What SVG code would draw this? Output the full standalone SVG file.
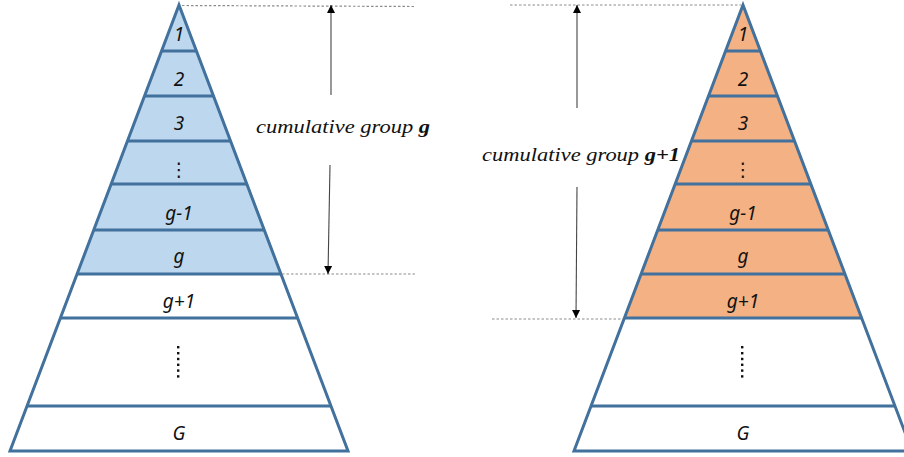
<svg xmlns="http://www.w3.org/2000/svg" width="904" height="457" viewBox="0 0 904 457">
<style>
.edge{fill:none;stroke:#41719C;stroke-width:3;stroke-linejoin:miter}
.band{stroke:#41719C;stroke-width:3}
.lbl{font-family:"Noto Sans","Open Sans",sans-serif;font-style:italic;font-size:19px;fill:#111;text-anchor:middle}
.vel{font-family:"DejaVu Sans",sans-serif;font-size:19px;fill:#111;text-anchor:middle}
.cap{font-family:"Liberation Serif","Times New Roman",serif;font-style:italic;font-size:19px;fill:#111}
.dot{stroke:#8c8c8c;stroke-width:1.2;stroke-dasharray:2.5,2;fill:none}
.arr{stroke:#444;stroke-width:1.1;fill:none}
</style>
<defs>
<marker id="ah" viewBox="0 0 10 10" refX="10" refY="5" markerWidth="8" markerHeight="9" markerUnits="userSpaceOnUse" orient="auto-start-reverse">
<path d="M0,0 L10,5 L0,10 z" fill="#000"/>
</marker>
</defs>
<rect width="904" height="457" fill="#fff"/>

<g id="pyramid-left">
<polygon points="179,5 77.1,274 280.9,274" fill="#BDD7EE"/>
<g class="band">
<line x1="161.6" y1="51" x2="196.4" y2="51"/>
<line x1="144.5" y1="96" x2="213.5" y2="96"/>
<line x1="127.5" y1="141" x2="230.5" y2="141"/>
<line x1="111.2" y1="184" x2="246.8" y2="184"/>
<line x1="93.7" y1="230" x2="264.3" y2="230"/>
<line x1="77.1" y1="274" x2="280.9" y2="274"/>
<line x1="60.4" y1="318" x2="297.6" y2="318"/>
<line x1="27.1" y1="406" x2="330.9" y2="406"/>
</g>
<polygon class="edge" points="179,5 348,451 10,451"/>
<text class="lbl" x="179" y="41">1</text>
<text class="lbl" x="179" y="86">2</text>
<text class="lbl" x="179" y="130">3</text>
<text class="vel" x="179" y="176">⋮</text>
<text class="lbl" x="179" y="220">g-1</text>
<text class="lbl" x="179" y="263">g</text>
<text class="lbl" x="179" y="308">g+1</text>
<g fill="#111">
<rect x="177" y="346" width="2.4" height="2.4"/>
<rect x="177" y="352" width="2.4" height="2.4"/>
<rect x="177" y="357.8" width="2.4" height="2.4"/>
<rect x="177" y="363.6" width="2.4" height="2.4"/>
<rect x="177" y="369.4" width="2.4" height="2.4"/>
<rect x="177" y="375.2" width="2.4" height="2.4"/>
</g>
<text class="lbl" x="179" y="440">G</text>
</g>

<g id="pyramid-right">
<polygon points="743,5 624.4,318 861.6,318" fill="#F4B183"/>
<g class="band">
<line x1="725.6" y1="51" x2="760.4" y2="51"/>
<line x1="708.5" y1="96" x2="777.5" y2="96"/>
<line x1="691.5" y1="141" x2="794.5" y2="141"/>
<line x1="675.2" y1="184" x2="810.8" y2="184"/>
<line x1="657.7" y1="230" x2="828.3" y2="230"/>
<line x1="641.1" y1="274" x2="844.9" y2="274"/>
<line x1="624.4" y1="318" x2="861.6" y2="318"/>
<line x1="591.1" y1="406" x2="894.9" y2="406"/>
</g>
<polygon class="edge" points="743,5 912,451 574,451"/>
<text class="lbl" x="743" y="41">1</text>
<text class="lbl" x="743" y="86">2</text>
<text class="lbl" x="743" y="130">3</text>
<text class="vel" x="743" y="176">⋮</text>
<text class="lbl" x="743" y="220">g-1</text>
<text class="lbl" x="743" y="263">g</text>
<text class="lbl" x="743" y="308">g+1</text>
<g fill="#111">
<rect x="741" y="346" width="2.4" height="2.4"/>
<rect x="741" y="352" width="2.4" height="2.4"/>
<rect x="741" y="357.8" width="2.4" height="2.4"/>
<rect x="741" y="363.6" width="2.4" height="2.4"/>
<rect x="741" y="369.4" width="2.4" height="2.4"/>
<rect x="741" y="375.2" width="2.4" height="2.4"/>
</g>
<text class="lbl" x="743" y="440">G</text>
</g>

<g id="connectors">
<line class="dot" x1="182" y1="5.5" x2="415" y2="6.5"/>
<line class="dot" x1="282" y1="274" x2="415" y2="274"/>
<line class="arr" x1="331" y1="5" x2="331" y2="95" marker-start="url(#ah)"/>
<line class="arr" x1="330" y1="165" x2="328" y2="274" marker-end="url(#ah)"/>
<line class="dot" x1="510" y1="5" x2="741" y2="5"/>
<line class="dot" x1="492" y1="319" x2="623" y2="319"/>
<line class="arr" x1="577" y1="5" x2="577" y2="108" marker-start="url(#ah)"/>
<line class="arr" x1="577" y1="187" x2="576" y2="318" marker-end="url(#ah)"/>
</g>

<g id="label-left">
<text class="cap" x="256" y="133" textLength="174" lengthAdjust="spacingAndGlyphs">cumulative group <tspan font-weight="bold">g</tspan></text>
</g>
<g id="label-right">
<text class="cap" x="482" y="161" textLength="198" lengthAdjust="spacingAndGlyphs">cumulative group <tspan font-weight="bold">g+1</tspan></text>
</g>
</svg>
